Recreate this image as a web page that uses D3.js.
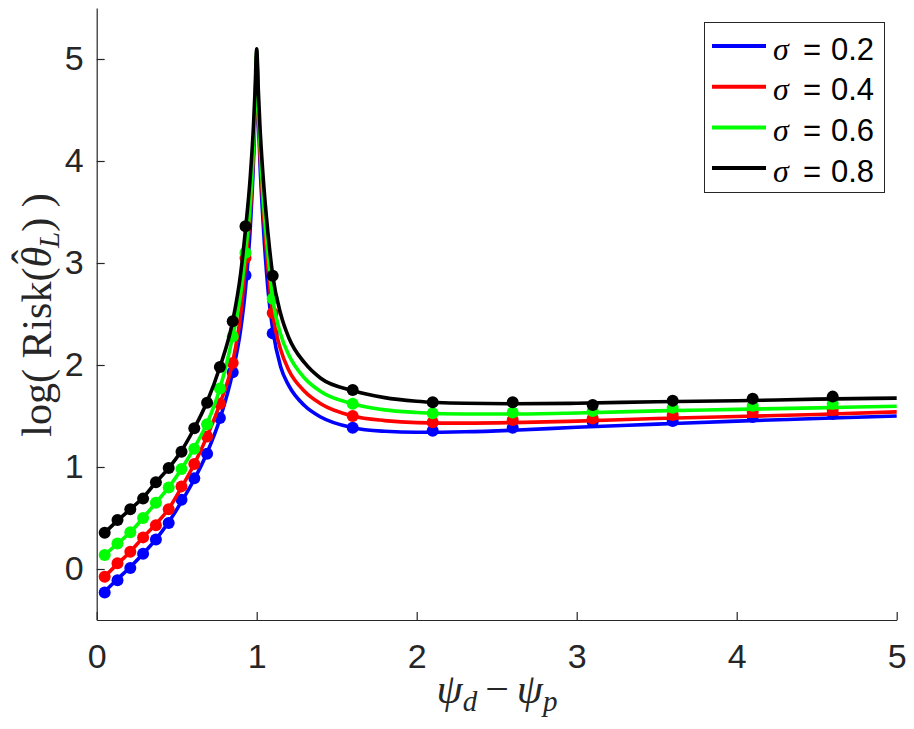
<!DOCTYPE html>
<html>
<head>
<meta charset="utf-8">
<script src="https://cdn.jsdelivr.net/npm/d3@7/dist/d3.min.js"></script>
<style>
  html, body { margin: 0; padding: 0; background: #ffffff; }
  svg { display: block; }
</style>
</head>
<body>
<svg id="chart" width="914" height="729"></svg>
<script>
// ---------- data ----------
const xTicks = [0, 1, 2, 3, 4, 5];
const yTicks = [0, 1, 2, 3, 4, 5];
const seriesLabels = ["0.2", "0.4", "0.6", "0.8"];
const seriesColors = ["#0000ff", "#ff0000", "#00ff00", "#000000"];

// empirical points (dots)
const dotX = [0.05, 0.13, 0.21, 0.29, 0.37, 0.45, 0.53, 0.61, 0.69, 0.77, 0.85, 0.93,
              1.1, 1.6, 2.1, 2.6, 3.1, 3.6, 4.1, 4.6];
const dotsS02 = [-0.23, -0.11, 0.01, 0.15, 0.29, 0.45, 0.68, 0.89, 1.13, 1.48, 1.93, 2.88,
                 2.31, 1.385, 1.356, 1.385, 1.44, 1.45, 1.49, 1.52];
const dotsS04 = [-0.075, 0.056, 0.17, 0.31, 0.43, 0.585, 0.81, 1.03, 1.30, 1.62, 2.02, 3.05,
                 2.51, 1.50, 1.438, 1.46, 1.475, 1.51, 1.54, 1.56];
const dotsS06 = [0.137, 0.25, 0.36, 0.50, 0.65, 0.80, 0.98, 1.18, 1.42, 1.77, 2.28, 3.10,
                 2.65, 1.62, 1.526, 1.534, 1.55, 1.58, 1.60, 1.62];
const dotsS08 = [0.356, 0.48, 0.585, 0.69, 0.85, 0.99, 1.15, 1.38, 1.63, 1.98, 2.43, 3.36,
                 2.875, 1.755, 1.634, 1.634, 1.607, 1.65, 1.67, 1.69];

// theoretical curves (lines)
const curveX = [0.05, 0.13, 0.21, 0.29, 0.37, 0.45, 0.53, 0.61, 0.69, 0.77, 0.85, 0.9,
                0.93, 0.96, 0.98, 0.99, 1.0, 1.01, 1.02, 1.04, 1.07, 1.1,
                1.15, 1.2, 1.3, 1.4, 1.6, 1.8, 2.0, 2.3, 2.6, 3.0, 3.5, 4.0, 4.5, 5.0];
const curveS02 = [-0.22, -0.10, 0.02, 0.15, 0.29, 0.46, 0.66, 0.88, 1.14, 1.47, 1.93, 2.35,
                  2.75, 3.35, 4.0, 4.45, 5.03, 4.45, 4.0, 3.4, 2.75, 2.35,
                  1.98, 1.8, 1.6, 1.49, 1.385, 1.35, 1.34, 1.345, 1.36, 1.39, 1.42, 1.45, 1.475, 1.5];
const curveS04 = [-0.075, 0.05, 0.17, 0.31, 0.44, 0.59, 0.80, 1.03, 1.30, 1.62, 2.03, 2.5,
                  2.98, 3.5, 4.1, 4.5, 5.05, 4.5, 4.1, 3.55, 2.95, 2.5,
                  2.15, 1.95, 1.74, 1.62, 1.5, 1.455, 1.435, 1.43, 1.435, 1.45, 1.475, 1.495, 1.515, 1.54];
const curveS06 = [0.137, 0.25, 0.36, 0.50, 0.65, 0.80, 0.98, 1.19, 1.43, 1.77, 2.28, 2.7,
                  3.1, 3.6, 4.15, 4.55, 5.07, 4.55, 4.2, 3.65, 3.1, 2.65,
                  2.3, 2.1, 1.87, 1.74, 1.62, 1.56, 1.535, 1.52, 1.52, 1.53, 1.55, 1.565, 1.58, 1.595];
const curveS08 = [0.356, 0.475, 0.585, 0.70, 0.85, 0.99, 1.16, 1.38, 1.64, 1.98, 2.43, 2.9,
                  3.33, 3.85, 4.35, 4.7, 5.1, 4.7, 4.35, 3.85, 3.3, 2.88,
                  2.5, 2.27, 2.02, 1.87, 1.75, 1.68, 1.645, 1.625, 1.62, 1.625, 1.64, 1.65, 1.665, 1.675];

const curves = [curveS02, curveS04, curveS06, curveS08];
const dots = [dotsS02, dotsS04, dotsS06, dotsS08];

// ---------- drawing ----------
const svg = d3.select("#chart");
svg.append("rect").attr("width", 914).attr("height", 729).attr("fill", "#ffffff");

const x = d3.scaleLinear().domain([0, 5]).range([96.7, 896.7]);
const y = d3.scaleLinear().domain([-0.5, 5.5]).range([620, 8]);

const axisColor = "#262626";
const tickFont = "'Liberation Sans', Arial, Helvetica, sans-serif";
const serif = "'Liberation Serif', 'DejaVu Serif', serif";

const line = d3.line()
  .x((d, i) => x(curveX[i]))
  .y(d => y(d))
  .curve(d3.curveMonotoneX);

const plot = svg.append("g");
curves.forEach((c, s) => {
  const g = plot.append("g");
  g.append("path")
    .attr("d", line(c))
    .attr("fill", "none")
    .attr("stroke", seriesColors[s])
    .attr("stroke-width", 3.6)
    .attr("stroke-linejoin", "round");
  g.selectAll("circle")
    .data(dots[s])
    .join("circle")
    .attr("cx", (d, i) => x(dotX[i]))
    .attr("cy", d => y(d))
    .attr("r", 6)
    .attr("fill", seriesColors[s]);
});

// axes
const xAxis = d3.axisBottom(x).tickValues(xTicks).tickFormat(d3.format("d"))
  .tickSizeInner(-8).tickSizeOuter(0).tickPadding(24);
const yAxis = d3.axisLeft(y).tickValues(yTicks).tickFormat(d3.format("d"))
  .tickSizeInner(-8).tickSizeOuter(0).tickPadding(13);

const gx = svg.append("g").attr("transform", "translate(0,620)").call(xAxis);
const gy = svg.append("g").attr("transform", "translate(96.7,0)").call(yAxis);
[gx, gy].forEach(g => {
  g.select(".domain").attr("stroke", axisColor).attr("stroke-width", 1.2);
  g.selectAll(".tick line").attr("stroke", axisColor).attr("stroke-width", 1.2);
  g.selectAll(".tick text")
    .attr("fill", axisColor)
    .style("font-family", tickFont)
    .style("font-size", "34px");
});

// x label
const xl = svg.append("text")
  .attr("x", 497).attr("y", 703)
  .attr("text-anchor", "middle")
  .style("font-family", serif)
  .style("font-size", "42px")
  .attr("fill", axisColor);
xl.append("tspan").style("font-style", "italic").text("ψ");
xl.append("tspan").style("font-style", "italic").style("font-size", "29px").attr("dy", 8).text("d");
xl.append("tspan").attr("dy", -8).attr("dx", 8).text("−");
xl.append("tspan").attr("dx", 8).style("font-style", "italic").text("ψ");
xl.append("tspan").style("font-style", "italic").style("font-size", "29px").attr("dy", 8).text("p");

// y label
const yl = svg.append("text")
  .attr("transform", "translate(51,315) rotate(-90)")
  .attr("text-anchor", "middle")
  .style("font-family", serif)
  .style("font-size", "42px")
  .attr("fill", axisColor);
yl.append("tspan").text("log( Risk(");
yl.append("tspan").style("font-style", "italic").text("θ");
yl.append("tspan").attr("dx", -17).attr("dy", -10).text("ˆ");
yl.append("tspan").style("font-style", "italic").style("font-size", "29px").attr("dx", 2).attr("dy", 18).text("L");
yl.append("tspan").attr("dy", -8).text(") )");

// legend
const lg = svg.append("g");
lg.append("rect")
  .attr("x", 704.5).attr("y", 22.5).attr("width", 180).attr("height", 170)
  .attr("fill", "#ffffff").attr("stroke", axisColor).attr("stroke-width", 1);
seriesLabels.forEach((lab, i) => {
  const cy = 46 + i * 40.7;
  lg.append("line")
    .attr("x1", 712).attr("x2", 766).attr("y1", cy).attr("y2", cy)
    .attr("stroke", seriesColors[i]).attr("stroke-width", 4);
  const t = lg.append("text")
    .attr("y", cy + 13.5)
    .style("font-family", tickFont)
    .style("font-size", "31px")
    .attr("fill", "#000000");
  t.append("tspan").attr("x", 773).style("font-family", serif).style("font-style", "italic").style("font-size", "32px").text("σ");
  t.append("tspan").attr("x", 803).text("=");
  t.append("tspan").attr("x", 831).text(lab);
});
</script>
</body>
</html>
